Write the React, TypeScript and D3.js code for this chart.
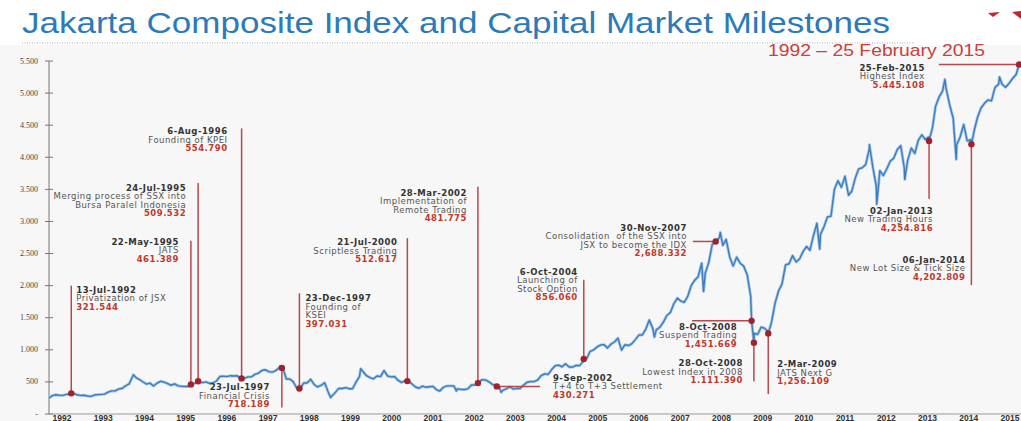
import React from "react";
import * as d3 from "d3";

const W = 1021;
const H = 421;

// ---- data ----
const yearLabels = [
  "1992", "1993", "1994", "1995", "1996", "1997", "1998", "1999", "2000", "2001", "2002", "2003",
  "2004", "2005", "2006", "2007", "2008", "2009", "2010", "2011", "2012", "2013", "2014", "2015",
];
const yTicks = [0, 500, 1000, 1500, 2000, 2500, 3000, 3500, 4000, 4500, 5000, 5500];
const yTickLabels = ["-", "500", "1.000", "1.500", "2.000", "2.500", "3.000", "3.500", "4.000", "4.500", "5.000", "5.500"];

// month-end closes, Jan..Dec
const jci1992 = [287, 300, 293, 290, 305, 312, 321, 300, 290, 292, 280, 274];
const jci1993 = [295, 302, 305, 310, 340, 360, 360, 390, 400, 440, 470, 589];
const jci1994 = [563, 537, 499, 466, 481, 436, 480, 510, 497, 474, 448, 470];
const jci1995 = [439, 432, 428, 428, 462, 482, 509, 489, 500, 478, 483, 514];
const jci1996 = [586, 590, 583, 597, 593, 595, 538, 554, 578, 580, 617, 637];
const jci1997 = [679, 690, 661, 652, 676, 724, 721, 545, 546, 500, 401, 402];
const jci1998 = [485, 482, 541, 460, 421, 445, 487, 343, 276, 333, 399, 398];
const jci1999 = [411, 394, 393, 495, 585, 662, 597, 567, 548, 593, 582, 677];
const jci2000 = [592, 578, 583, 527, 492, 516, 512, 467, 421, 401, 434, 416];
const jci2001 = [424, 431, 381, 358, 416, 438, 438, 436, 392, 383, 381, 392];
const jci2002 = [451, 453, 481, 534, 531, 505, 463, 443, 419, 369, 390, 425];
const jci2003 = [388, 399, 398, 450, 494, 505, 507, 529, 597, 626, 617, 692];
const jci2004 = [753, 761, 736, 783, 733, 732, 756, 754, 820, 861, 977, 1000];
const jci2005 = [1046, 1074, 1081, 1029, 1089, 1122, 1182, 995, 1079, 1067, 1097, 1163];
const jci2006 = [1233, 1231, 1323, 1465, 1330, 1310, 1352, 1431, 1534, 1582, 1718, 1806];
const jci2007 = [1758, 1741, 1831, 1999, 2084, 2139, 2349, 2194, 2359, 2643, 2688, 2746];
const jci2008 = [2627, 2721, 2447, 2305, 2444, 2350, 2304, 2166, 1833, 1257, 1242, 1355];
const jci2009 = [1333, 1285, 1434, 1723, 1917, 2027, 2323, 2341, 2468, 2368, 2416, 2534];
const jci2010 = [2610, 2549, 2777, 2971, 2796, 2914, 3069, 3082, 3501, 3635, 3531, 3704];
const jci2011 = [3409, 3470, 3679, 3820, 3837, 3889, 4131, 3842, 3549, 3791, 3715, 3822];
const jci2012 = [3942, 3985, 4122, 4181, 3833, 3956, 4142, 4060, 4263, 4350, 4276, 4317];
const jci2013 = [4454, 4796, 4941, 5034, 5069, 4819, 4610, 4195, 4316, 4511, 4256, 4274];
const jci2014 = [4419, 4620, 4768, 4840, 4894, 4879, 5089, 5137, 5138, 5090, 5150, 5227];
const jci2015 = [5289];

// intra-month highs and lows seen on the line
const extremeDates = [
  "1992-01-02", "1994-01-05", "1997-07-08", "1998-09-21", "1999-06-10", "2001-09-21", "2002-10-17",
  "2006-06-13", "2007-08-16", "2008-01-09", "2010-05-25", "2011-08-01", "2011-10-04", "2012-06-04",
  "2013-05-20", "2013-08-27", "2014-09-08",
];
const extremeValues = [250, 610, 740, 256, 705, 360, 337, 1200, 1909, 2830, 2570, 4195, 3269, 3655, 5214, 3967, 5250];

const milestoneDates = [
  "13-Jul-1992", "22-May-1995", "24-Jul-1995", "6-Aug-1996", "23-Jul-1997", "23-Dec-1997", "21-Jul-2000",
  "28-Mar-2002", "9-Sep-2002", "6-Oct-2004", "30-Nov-2007", "8-Oct-2008", "28-Oct-2008", "2-Mar-2009",
  "02-Jan-2013", "06-Jan-2014", "25-Feb-2015",
];
const milestoneValues = [
  321.544, 461.389, 509.532, 554.79, 718.189, 397.031, 512.617, 481.775, 430.271, 856.06, 2688.332,
  1451.669, 1111.39, 1256.109, 4254.816, 4202.809, 5445.108,
];
const milestoneValueLabels = [
  "321.544", "461.389", "509.532", "554.790", "718.189", "397.031", "512.617", "481.775", "430.271",
  "856.060", "2,688.332", "1,451.669", "1.111.390", "1,256.109", "4,254.816", "4,202.809", "5.445.108",
];
const milestoneNotes = [
  ["Privatization of JSX"],
  ["JATS"],
  ["Merging process of SSX into", "Bursa Paralel Indonesia"],
  ["Founding of KPEI"],
  ["Financial Crisis"],
  ["Founding of", "KSEI"],
  ["Scriptless Trading"],
  ["Implementation of", "Remote Trading"],
  ["T+4 to T+3 Settlement"],
  ["Launching of", "Stock Option"],
  ["Consolidation  of the SSX into", "JSX to become the IDX"],
  ["Suspend Trading"],
  ["Lowest Index in 2008"],
  ["JATS Next G"],
  ["New Trading Hours"],
  ["New Lot Size & Tick Size"],
  ["Highest Index"],
];

// ---- callout layout (leader end + label offset from it) ----
type Callout = { leader: "v" | "h"; to: number | string; anchor: "start" | "end"; dx: number; dy: number };
const callouts: Callout[] = [
  { leader: "v", to: 2000, anchor: "start", dx: 5, dy: 7 },
  { leader: "v", to: 2700, anchor: "end", dx: -12, dy: 4 },
  { leader: "v", to: 3600, anchor: "end", dx: -12, dy: 8 },
  { leader: "v", to: 4450, anchor: "end", dx: -14, dy: 6 },
  { leader: "v", to: 100, anchor: "end", dx: -12, dy: -17.5 },
  { leader: "v", to: 1880, anchor: "start", dx: 6, dy: 8 },
  { leader: "v", to: 2740, anchor: "end", dx: -10, dy: 7 },
  { leader: "v", to: 3540, anchor: "end", dx: -11, dy: 9 },
  { leader: "h", to: "2003-09-20", anchor: "start", dx: 13, dy: -5.5 },
  { leader: "v", to: 2090, anchor: "end", dx: -6, dy: -5 },
  { leader: "h", to: "2007-05-15", anchor: "end", dx: -6, dy: -10.5 },
  { leader: "h", to: "2007-05-08", anchor: "end", dx: 45, dy: 9 },
  { leader: "v", to: 510, anchor: "end", dx: -11, dy: -15 },
  { leader: "v", to: 310, anchor: "start", dx: 9, dy: -27 },
  { leader: "v", to: 3350, anchor: "end", dx: 4, dy: 15 },
  { leader: "v", to: 2010, anchor: "end", dx: -6, dy: -22 },
  { leader: "h", to: "2013-03-28", anchor: "end", dx: -14, dy: 6 },
];

const parseIso = d3.timeParse("%Y-%m-%d");
const parseLabel = d3.timeParse("%d-%b-%Y");

type Pt = { date: Date; value: number };

const yearly = [
  jci1992, jci1993, jci1994, jci1995, jci1996, jci1997, jci1998, jci1999, jci2000, jci2001, jci2002, jci2003,
  jci2004, jci2005, jci2006, jci2007, jci2008, jci2009, jci2010, jci2011, jci2012, jci2013, jci2014, jci2015,
];

const monthly: Pt[] = yearly.flatMap((vals, i) =>
  vals.map((v, m) => ({ date: new Date(1992 + i, m + 1, 0), value: v }))
);
const extremes: Pt[] = extremeDates.map((d, i) => ({ date: parseIso(d) as Date, value: extremeValues[i] }));
const milestones: Pt[] = milestoneDates.map((d, i) => ({ date: parseLabel(d) as Date, value: milestoneValues[i] }));
const series = [...monthly, ...extremes, ...milestones].sort((a, b) => +a.date - +b.date);

const BLUE = "#3b7dbf";
const RED_LINE = "#b9484c";
const RED_DOT = "#a3212a";
const RED_TEXT = "#c0392b";

export default function App() {
  const x = d3.scaleTime().domain([new Date(1992, 0, 1), new Date(2015, 1, 25)]).range([49, 1019]);
  const y = d3.scaleLinear().domain([0, 5500]).range([414, 61]);
  const yearPos = d3.scalePoint<string>().domain(yearLabels).range([62, 1010]);

  const line = d3
    .line<Pt>()
    .x((d) => x(d.date))
    .y((d) => y(d.value));
  const path = line(series) || "";

  const font = "'DejaVu Sans', Verdana, sans-serif";

  return (
    <svg width={W} height={H} style={{ position: "absolute", left: 0, top: 0, background: "#fff" }}>
      <rect x={0} y={45} width={W} height={H - 45} fill="#f7f7f7" />

      {/* title */}
      <text x={22} y={33} fontFamily="'Liberation Sans', Arial, sans-serif" fontSize={29} fill="#2b7bba"
        textLength={868} lengthAdjust="spacingAndGlyphs">
        Jakarta Composite Index and Capital Market Milestones
      </text>
      <line x1={22} x2={915} y1={43} y2={43} stroke="#aaa" strokeWidth={1} strokeDasharray="1,1.5" />
      <text x={985} y={56} textAnchor="end" fontFamily="'Liberation Sans', Arial, sans-serif" fontSize={17}
        fill="#c8413b" textLength={217} lengthAdjust="spacingAndGlyphs">
        1992 – 25 February 2015
      </text>
      <polygon points="988,13 1000,12 993,17" fill="#c0272d" />
      <polygon points="1012,12 1021,11 1021,19" fill="#c0272d" />

      {/* y axis */}
      <line x1={49} x2={49} y1={y(5500)} y2={y(0)} stroke="#777" />
      {yTicks.map((t, i) => (
        <g key={t}>
          <line x1={45} x2={53} y1={y(t)} y2={y(t)} stroke="#777" />
          <text x={38} y={y(t)} dy="0.32em" textAnchor="end" fontFamily="'Liberation Serif', serif"
            fontSize={8} fill="#444">
            {yTickLabels[i]}
          </text>
        </g>
      ))}

      {/* x axis */}
      <line x1={49} x2={W} y1={y(0)} y2={y(0)} stroke="#999" />
      {yearLabels.map((yr) => (
        <text key={yr} x={yearPos(yr)} y={420.5} textAnchor="middle" fontFamily="'Liberation Sans', Arial, sans-serif"
          fontWeight="bold" fontSize={8.5} fill="#333">
          {yr}
        </text>
      ))}

      {/* index line */}
      <path d={path} fill="none" stroke="#a8c8e8" strokeWidth={3} strokeLinejoin="round" />
      <path d={path} fill="none" stroke={BLUE} strokeWidth={1.4} strokeLinejoin="round" />

      {/* milestones */}
      {milestones.map((m, i) => {
        const c = callouts[i];
        const mx = x(m.date);
        const my = y(m.value);
        let ex = mx;
        let ey = my;
        if (c.leader === "v") ey = y(c.to as number);
        else ex = x(parseIso(c.to as string) as Date);
        const tx = ex + c.dx;
        const ty = ey + c.dy;
        const lines = [milestoneDates[i], ...milestoneNotes[i], milestoneValueLabels[i]];
        return (
          <g key={milestoneDates[i]}>
            <line x1={mx} y1={my} x2={ex} y2={ey} stroke={RED_LINE} strokeWidth={1.5} />
            <circle cx={mx} cy={my} r={3.2} fill={RED_DOT} />
            <text textAnchor={c.anchor} fontFamily={font} fontSize={8.5} letterSpacing={0.5}>
              {lines.map((s, k) => (
                <tspan key={k} x={tx} y={ty + k * 8.5}
                  fontWeight={k === 0 || k === lines.length - 1 ? "bold" : "normal"}
                  fill={k === 0 ? "#333" : k === lines.length - 1 ? RED_TEXT : "#555"}
                  style={{ whiteSpace: "pre" }}>
                  {s}
                </tspan>
              ))}
            </text>
          </g>
        );
      })}
    </svg>
  );
}
